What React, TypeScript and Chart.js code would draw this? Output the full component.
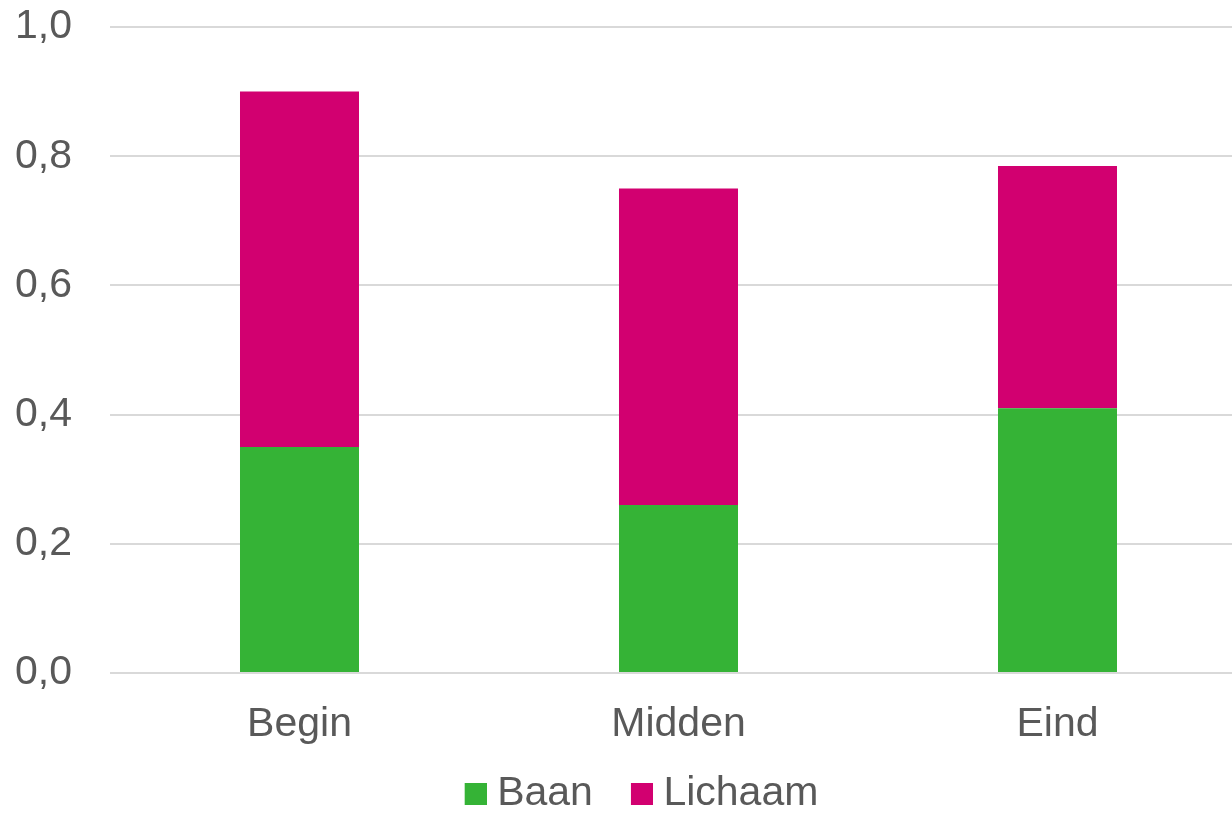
import React, { useEffect, useRef } from "react";
import { Chart, registerables } from "chart.js";

Chart.register(...registerables);

const categories = ["Begin", "Midden", "Eind"];
const baan = [0.35, 0.26, 0.41];
const lichaam = [0.55, 0.49, 0.375];
const yTicks = [0, 0.2, 0.4, 0.6, 0.8, 1.0];

const GREEN = "#35b336";
const MAGENTA = "#d20070";
const TEXT = "#595959";
const GRID = "#d9d9d9";
const FONT = "'Liberation Sans', Arial, sans-serif";
const FS = 41;

// legend swatch: 22px square on the right of a transparent 68px-wide image
function makeSwatch(color: string): HTMLCanvasElement {
  const c = document.createElement("canvas");
  c.width = 68;
  c.height = 22;
  const ctx = c.getContext("2d")!;
  ctx.fillStyle = color;
  ctx.fillRect(46, 0, 22, 22);
  return c;
}

export default function App() {
  const ref = useRef<HTMLCanvasElement>(null);

  useEffect(() => {
    document.body.style.overflow = "hidden";
    const swatches = [makeSwatch(GREEN), makeSwatch(MAGENTA)];
    const chart = new Chart(ref.current!, {
      type: "bar",
      data: {
        labels: categories,
        datasets: [
          { label: "Baan", data: baan, backgroundColor: GREEN, pointStyle: swatches[0] as any },
          { label: "Lichaam", data: lichaam, backgroundColor: MAGENTA, pointStyle: swatches[1] as any },
        ],
      },
      options: {
        animation: false,
        responsive: false,
        maintainAspectRatio: false,
        layout: { padding: { top: 27, left: 0, right: 0, bottom: 0 } },
        datasets: { bar: { barPercentage: 0.314, categoryPercentage: 1 } },
        plugins: {
          tooltip: { enabled: false },
          legend: {
            position: "bottom",
            labels: {
              usePointStyle: true,
              pointStyleWidth: 48,
              padding: 2,
              color: TEXT,
              font: { family: FONT, size: FS },
            },
          },
        },
        scales: {
          x: {
            stacked: true,
            grid: { display: false, drawTicks: false },
            border: { display: false },
            ticks: { color: TEXT, font: { family: FONT, size: FS }, padding: 27 },
            afterFit: (s: any) => {
              s.height = 98;
              s.paddingLeft = 0;
              s.paddingRight = 0;
            },
          },
          y: {
            stacked: true,
            min: 0,
            max: 1,
            afterBuildTicks: (s: any) => {
              s.ticks = yTicks.map((v) => ({ value: v }));
            },
            grid: { color: GRID, lineWidth: 2, drawTicks: false },
            border: { display: false },
            ticks: {
              color: TEXT,
              font: { family: FONT, size: FS },
              padding: 38,
              callback: (v: any) => Number(v).toFixed(1).replace(".", ","),
            },
            afterFit: (s: any) => {
              s.width = 110;
              s.paddingTop = 0;
              s.paddingBottom = 0;
            },
          },
        },
      },
    });
    return () => chart.destroy();
  }, []);

  return (
    <div style={{ position: "fixed", left: 0, top: 0, width: 1232, height: 814, overflow: "hidden", background: "#fff" }}>
      <canvas ref={ref} width={1247} height={824} style={{ display: "block", width: 1247, height: 824 }} />
    </div>
  );
}
